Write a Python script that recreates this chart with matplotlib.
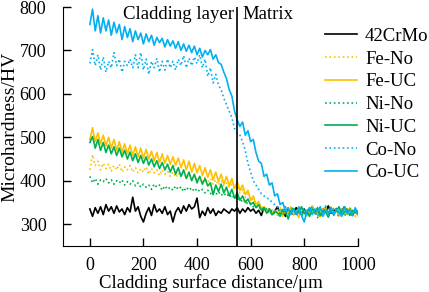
import numpy as np
import matplotlib
matplotlib.use('Agg')
import matplotlib.pyplot as plt

plt.rcParams['font.family'] = ['Liberation Serif', 'DejaVu Serif']
plt.rcParams['font.size'] = 13.5
plt.rcParams['mathtext.fontset'] = 'stix'

# distance along cladding surface, um
dist = np.arange(0, 1001, 10)

hv_42crmo = [335, 318, 338, 325, 340, 322, 345, 330, 340, 325, 342,
             328, 335, 322, 338, 328, 362, 330, 340, 318, 305,
             325, 338, 320, 345, 328, 335, 325, 340, 322, 330,
             305, 328, 338, 325, 342, 330, 345, 335, 340, 360,
             315, 330, 320, 338, 325, 335, 320, 330, 325, 335,
             330, 325, 335, 330, 338, 325, 335, 328, 338, 330,
             335, 325, 332, 320, 338, 328, 335, 322, 330, 340,
             325, 332, 318, 336, 328, 322, 338, 330, 325, 335,
             320, 332, 340, 326, 330, 318, 335, 328, 342, 325,
             330, 336, 322, 330, 340, 328, 334, 320, 332, 326]

hv_fe_no = [425, 460, 435, 445, 425, 440, 428, 438, 422, 435, 425,
            438, 420, 432, 425, 435, 420, 430, 418, 428, 420,
            432, 415, 428, 418, 425, 412, 425, 415, 422, 410,
            420, 408, 418, 410, 420, 405, 415, 402, 412, 400,
            410, 398, 408, 395, 405, 392, 402, 390, 400, 388,
            395, 385, 392, 380, 388, 372, 380, 362, 370, 355,
            358, 345, 350, 338, 342, 330, 335, 325, 332, 320,
            338, 326, 330, 318, 335, 328, 322, 340, 325, 330,
            316, 334, 328, 338, 322, 330, 325, 340, 318, 332,
            326, 338, 320, 330, 335, 322, 340, 328, 318, 334]

hv_fe_uc = [495, 522, 490, 510, 485, 505, 480, 500, 475, 495, 470,
            490, 465, 485, 462, 482, 458, 478, 455, 475, 452,
            472, 450, 468, 445, 465, 442, 462, 440, 458, 438,
            455, 435, 452, 430, 448, 425, 445, 420, 440, 418,
            435, 412, 430, 408, 425, 402, 420, 398, 415, 392,
            410, 388, 405, 382, 398, 378, 390, 368, 378, 355,
            365, 345, 352, 335, 340, 328, 335, 322, 332, 325,
            330, 318, 335, 325, 340, 322, 330, 315, 338, 326,
            332, 320, 342, 325, 330, 318, 336, 328, 322, 340,
            325, 332, 318, 335, 328, 322, 338, 325, 330, 320]

hv_ni_no = [410, 395, 405, 392, 402, 398, 405, 395, 402, 392, 400,
            395, 402, 390, 398, 392, 400, 388, 395, 385, 392,
            385, 390, 380, 392, 385, 390, 378, 388, 380, 385,
            378, 388, 380, 386, 375, 385, 378, 384, 375, 382,
            375, 380, 372, 378, 370, 376, 368, 375, 366, 372,
            364, 370, 360, 366, 356, 360, 350, 355, 345, 348,
            340, 342, 335, 338, 330, 336, 326, 332, 322, 335,
            328, 320, 336, 325, 332, 340, 322, 330, 318, 334,
            326, 338, 322, 330, 315, 335, 328, 340, 325, 330,
            320, 334, 326, 338, 318, 330, 336, 324, 332, 322]

hv_ni_uc = [488, 502, 475, 495, 470, 488, 465, 482, 462, 478, 458,
            475, 455, 470, 450, 466, 446, 462, 442, 458, 440,
            455, 436, 450, 432, 446, 428, 442, 425, 438, 420,
            435, 415, 430, 410, 425, 405, 420, 400, 415, 395,
            410, 392, 405, 388, 395, 368, 390, 375, 392, 372,
            385, 365, 380, 360, 372, 355, 365, 350, 358, 345,
            350, 338, 345, 332, 338, 325, 335, 322, 330, 326,
            318, 334, 328, 312, 330, 336, 322, 328, 340, 324,
            330, 318, 335, 326, 338, 320, 332, 328, 316, 336,
            324, 330, 340, 322, 328, 335, 320, 332, 326, 330]

hv_co_no = [670, 702, 665, 690, 655, 685, 650, 675, 660, 695, 665,
            680, 650, 675, 665, 680, 660, 690, 660, 695, 655,
            680, 645, 675, 660, 682, 650, 675, 655, 680, 660,
            675, 655, 680, 665, 688, 660, 682, 665, 685, 670,
            690, 660, 680, 640, 660, 625, 645, 620, 610, 590,
            575, 560, 545, 520, 510, 505, 490, 470, 440, 420,
            400, 390, 380, 370, 365, 360, 358, 350, 345, 340,
            335, 328, 340, 322, 330, 336, 318, 332, 325, 338,
            322, 330, 340, 325, 318, 335, 328, 342, 320, 330,
            336, 325, 318, 332, 340, 322, 330, 325, 338, 320]

hv_co_uc = [760, 795, 745, 780, 740, 775, 745, 770, 735, 765, 740,
            760, 725, 755, 730, 750, 720, 745, 725, 740, 715,
            738, 720, 735, 712, 730, 718, 728, 708, 725, 710,
            722, 705, 720, 700, 715, 698, 712, 695, 710, 690,
            705, 685, 700, 690, 702, 680, 690, 672, 668, 650,
            635, 610, 595, 560, 540, 525, 535, 505, 515, 490,
            495, 465, 445, 440, 410, 415, 390, 395, 365, 370,
            345, 350, 330, 338, 322, 335, 325, 340, 320, 305,
            330, 338, 322, 335, 328, 340, 318, 332, 326, 338,
            320, 335, 328, 318, 340, 325, 332, 320, 336, 328]

series = [
    ('42CrMo', hv_42crmo, 'black', '-'),
    ('Fe-No', hv_fe_no, '#FFC000', ':'),
    ('Fe-UC', hv_fe_uc, '#FFC000', '-'),
    ('Ni-No', hv_ni_no, '#00B050', ':'),
    ('Ni-UC', hv_ni_uc, '#00B050', '-'),
    ('Co-No', hv_co_no, '#00B0F0', ':'),
    ('Co-UC', hv_co_uc, '#00B0F0', '-'),
]

fig = plt.figure(figsize=(4.29, 2.92), dpi=100)
ax = fig.add_axes([0.147, 0.158, 0.687, 0.818])

for name, vals, col, ls in series:
    ax.plot(dist, vals, color=col, linestyle=ls, linewidth=1.2, label=name)

# boundary between cladding layer and matrix
ax.axvline(550, color='black', linewidth=1.2)
ax.text(538, 782, 'Cladding layer', ha='right', va='center')
ax.text(568, 782, 'Matrix', ha='left', va='center')

ax.set_xlim(-100, 1000)
ax.set_ylim(250, 800)
ax.set_xticks([0, 200, 400, 600, 800, 1000])
ax.set_yticks([300, 400, 500, 600, 700, 800])
ax.tick_params(direction='in', length=6, width=1, labelsize=13)
ax.tick_params(axis='x', pad=8)
ax.tick_params(axis='y', pad=12)
ax.spines['top'].set_visible(False)
ax.spines['right'].set_visible(False)
ax.set_xlabel('Cladding surface distance/μm', fontsize=13.5, labelpad=0)
ax.set_ylabel('Microhardness/HV', fontsize=14, labelpad=1)

fig.legend(loc='upper left', bbox_to_anchor=(0.757, 0.905), frameon=False,
           handlelength=1.7, labelspacing=0.3, handletextpad=0.45,
           borderpad=0, borderaxespad=0)

fig.savefig('out.png', dpi=100)
